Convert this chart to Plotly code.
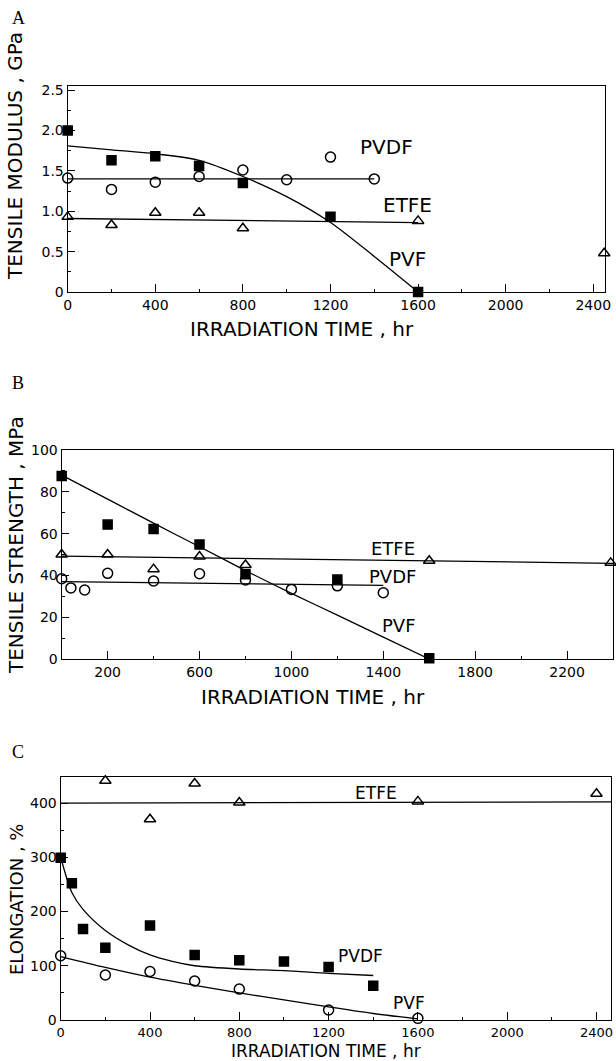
import plotly.graph_objects as go

W, H = 616, 1061

# ---------------- Panel A : tensile modulus (GPa) ----------------
A_PVF_X = [0, 200, 400, 600, 800, 1200, 1600]
A_PVF_Y = [2.0, 1.63, 1.68, 1.56, 1.35, 0.93, 0.0]
A_PVF_FIT_X = [0, 200, 400, 600, 800, 1000, 1200, 1400, 1600]
A_PVF_FIT_Y = [1.81, 1.76, 1.71, 1.63, 1.43, 1.18, 0.86, 0.44, 0.0]
A_PVDF_X = [0, 200, 400, 600, 800, 1000, 1200, 1400]
A_PVDF_Y = [1.41, 1.27, 1.36, 1.43, 1.51, 1.39, 1.67, 1.40]
A_PVDF_FIT_X = [0, 1400]
A_PVDF_FIT_Y = [1.40, 1.40]
A_ETFE_X = [0, 200, 400, 600, 800, 1600, 2450]
A_ETFE_Y = [0.93, 0.83, 0.98, 0.98, 0.79, 0.88, 0.48]
A_ETFE_FIT_X = [0, 1600]
A_ETFE_FIT_Y = [0.91, 0.86]
A_YTICKS = [0, 0.5, 1.0, 1.5, 2.0, 2.5]
A_YTICKTEXT = ["0", "0.5", "1.0", "1.5", "2.0", "2.5"]

# ---------------- Panel B : tensile strength (MPa) ----------------
B_PVF_X = [0, 200, 400, 600, 800, 1200, 1600]
B_PVF_Y = [87.6, 64.3, 62.2, 54.8, 40.5, 38.0, 0.3]
B_PVF_FIT_X = [0, 200, 400, 600, 800, 1000, 1200, 1400, 1600]
B_PVF_FIT_Y = [88.0, 76.5, 65.0, 53.7, 42.3, 31.4, 21.0, 10.5, 0.0]
B_ETFE_X = [0, 200, 400, 600, 800, 1600, 2390]
B_ETFE_Y = [50, 50, 43, 49, 45, 47, 46]
B_ETFE_FIT_X = [0, 2400]
B_ETFE_FIT_Y = [49.2, 45.8]
B_PVDF_X = [0, 40, 100, 200, 400, 600, 800, 1000, 1200, 1400]
B_PVDF_Y = [38.4, 34.0, 33.0, 41.0, 37.3, 40.8, 37.8, 33.3, 35.0, 31.7]
B_PVDF_FIT_X = [0, 1400]
B_PVDF_FIT_Y = [37.0, 35.2]
B_YTICKS = [0, 20, 40, 60, 80, 100]
B_XTICKS = [200, 600, 1000, 1400, 1800, 2200]

# ---------------- Panel C : elongation (%) ----------------
C_ETFE_X = [200, 400, 600, 800, 1600, 2400]
C_ETFE_Y = [441, 370, 436, 401, 403, 417]
C_ETFE_FIT_X = [0, 2465]
C_ETFE_FIT_Y = [400, 402]
C_SQ_X = [0, 50, 100, 200, 400, 600, 800, 1000, 1200, 1400]
C_SQ_Y = [299, 252, 168, 133, 174, 120, 110, 108, 97.5, 63]
C_SQ_FIT_X = [0, 50, 100, 200, 300, 400, 500, 600, 800, 1000, 1200, 1400]
C_SQ_FIT_Y = [300, 235, 204, 165, 139, 120, 108, 100, 94, 91, 86, 82]
C_CI_X = [0, 200, 400, 600, 800, 1200, 1600]
C_CI_Y = [118.5, 83, 89.5, 72, 57, 18.5, 3]
C_CI_FIT_X = [0, 200, 400, 600, 800, 1000, 1200, 1400, 1600]
C_CI_FIT_Y = [117, 97, 79, 64, 50, 37, 24, 12, 2]
C_YTICKS = [0, 100, 200, 300, 400]

X_TICKS = [0, 400, 800, 1200, 1600, 2000, 2400]

FONT = "DejaVu Sans"


def px(x):
    return x / W


def py(y):
    return 1 - y / H


fig = go.Figure()


def fit(x, y, xa, ya, shape="spline"):
    fig.add_trace(go.Scatter(x=x, y=y, mode="lines", xaxis=xa, yaxis=ya,
                             line=dict(color="black", width=1.3, shape=shape, smoothing=0.8),
                             showlegend=False, hoverinfo="skip", cliponaxis=False))


def pts(x, y, xa, ya, symbol, size=9):
    fig.add_trace(go.Scatter(x=x, y=y, mode="markers", xaxis=xa, yaxis=ya,
                             marker=dict(symbol=symbol, size=size, color="black",
                                         line=dict(color="black", width=1.5)),
                             showlegend=False, cliponaxis=False))


# Panel A
fit(A_PVF_FIT_X, A_PVF_FIT_Y, "x", "y")
fit(A_PVDF_FIT_X, A_PVDF_FIT_Y, "x", "y", "linear")
fit(A_ETFE_FIT_X, A_ETFE_FIT_Y, "x", "y", "linear")
pts(A_PVF_X, A_PVF_Y, "x", "y", "square", 9)
pts(A_PVDF_X, A_PVDF_Y, "x", "y", "circle-open", 10)
pts(A_ETFE_X, A_ETFE_Y, "x", "y", "triangle-up-open", 10)

# Panel B
fit(B_PVF_FIT_X, B_PVF_FIT_Y, "x2", "y2")
fit(B_ETFE_FIT_X, B_ETFE_FIT_Y, "x2", "y2", "linear")
fit(B_PVDF_FIT_X, B_PVDF_FIT_Y, "x2", "y2", "linear")
pts(B_PVF_X, B_PVF_Y, "x2", "y2", "square", 9)
pts(B_PVDF_X, B_PVDF_Y, "x2", "y2", "circle-open", 10)
pts(B_ETFE_X, B_ETFE_Y, "x2", "y2", "triangle-up-open", 10)

# Panel C
fit(C_ETFE_FIT_X, C_ETFE_FIT_Y, "x3", "y3", "linear")
fit(C_SQ_FIT_X, C_SQ_FIT_Y, "x3", "y3")
fit(C_CI_FIT_X, C_CI_FIT_Y, "x3", "y3")
pts(C_SQ_X, C_SQ_Y, "x3", "y3", "square", 9)
pts(C_CI_X, C_CI_Y, "x3", "y3", "circle-open", 10)
pts(C_ETFE_X, C_ETFE_Y, "x3", "y3", "triangle-up-open", 10)


def xaxis(domain, rng, tickvals, anchor, fsize=14):
    return dict(domain=domain, range=rng, anchor=anchor, tickmode="array",
                tickvals=tickvals, ticktext=[str(v) for v in tickvals],
                ticks="inside", ticklen=8, tickwidth=1.2, tickcolor="black",
                minor=dict(dtick=200, tick0=0, ticks="inside", ticklen=3,
                           tickwidth=1.1, tickcolor="black"),
                showline=True, linecolor="black", linewidth=1.3, mirror=True,
                showgrid=False, zeroline=False, automargin=False,
                tickfont=dict(family=FONT, size=fsize, color="black"))


def yaxis(domain, rng, tickvals, ticktext, anchor, minor_dt):
    return dict(domain=domain, range=rng, anchor=anchor, tickmode="array",
                tickvals=tickvals, ticktext=ticktext,
                ticks="inside", ticklen=7, tickwidth=1.2, tickcolor="black",
                minor=dict(dtick=minor_dt, tick0=0, ticks="inside", ticklen=3,
                           tickwidth=1.1, tickcolor="black"),
                showline=True, linecolor="black", linewidth=1.3, mirror=True,
                showgrid=False, zeroline=False, automargin=False,
                tickfont=dict(family=FONT, size=14, color="black"))


layout = dict(
    width=W, height=H,
    margin=dict(l=0, r=0, t=0, b=0),
    paper_bgcolor="white", plot_bgcolor="white",
    showlegend=False,
    xaxis=xaxis([px(67.7), px(605.3)], [0, 2455], X_TICKS, "y"),
    yaxis=yaxis([py(292), py(86)], [0, 2.55], A_YTICKS, A_YTICKTEXT, "x", 0.25),
    xaxis2=xaxis([px(61.7), px(613)], [0, 2400], B_XTICKS, "y2"),
    yaxis2=yaxis([py(659), py(450)], [0, 100], B_YTICKS, [str(v) for v in B_YTICKS], "x2", 10),
    xaxis3=xaxis([px(60.7), px(611)], [0, 2465], X_TICKS, "y3", 13),
    yaxis3=yaxis([py(1020), py(777)], [0, 448], C_YTICKS, [str(v) for v in C_YTICKS], "x3", 50),
)
fig.update_layout(**layout)

ann = []


def paper_text(text, x, y, size, family=FONT, angle=0):
    ann.append(dict(text=text, x=px(x), y=py(y), xref="paper", yref="paper",
                    showarrow=False, xanchor="center", yanchor="middle",
                    textangle=angle, font=dict(family=family, size=size, color="black")))


def data_text(text, x, y, xa, ya, size):
    ann.append(dict(text=text, x=x, y=y, xref=xa, yref=ya, showarrow=False,
                    xanchor="center", yanchor="middle",
                    font=dict(family=FONT, size=size, color="black")))


# panel letters
paper_text("A", 18, 18, 18, "Liberation Serif")
paper_text("B", 18, 383, 18, "Liberation Serif")
paper_text("C", 18, 752, 18, "Liberation Serif")

# axis titles
paper_text("TENSILE MODULUS , GPa", 15, 156, 20, angle=-90)
paper_text("IRRADIATION TIME , hr", 302, 329, 20)
paper_text("TENSILE STRENGTH , MPa", 16, 545, 20, angle=-90)
paper_text("IRRADIATION TIME , hr", 313, 697, 20)
paper_text("ELONGATION , %", 16, 900, 18, angle=-90)
paper_text("IRRADIATION TIME , hr", 326, 1051, 17)

# series labels
data_text("PVDF", 1454, 1.80, "x", "y", 20)
data_text("ETFE", 1550, 1.08, "x", "y", 20)
data_text("PVF", 1553, 0.41, "x", "y", 20)
data_text("ETFE", 1442, 53, "x2", "y2", 18)
data_text("PVDF", 1442, 39.7, "x2", "y2", 18)
data_text("PVF", 1467, 16.2, "x2", "y2", 18)
data_text("ETFE", 1412, 418, "x3", "y3", 17)
data_text("PVDF", 1342, 118.5, "x3", "y3", 17)
data_text("PVF", 1561, 32, "x3", "y3", 17)

fig.update_layout(annotations=ann)
fig.write_html(
    "out.html",
    config={"displayModeBar": False},
    post_script="document.body.style.margin='0';document.body.style.padding='0';"
                "document.body.style.overflow='hidden';",
)
